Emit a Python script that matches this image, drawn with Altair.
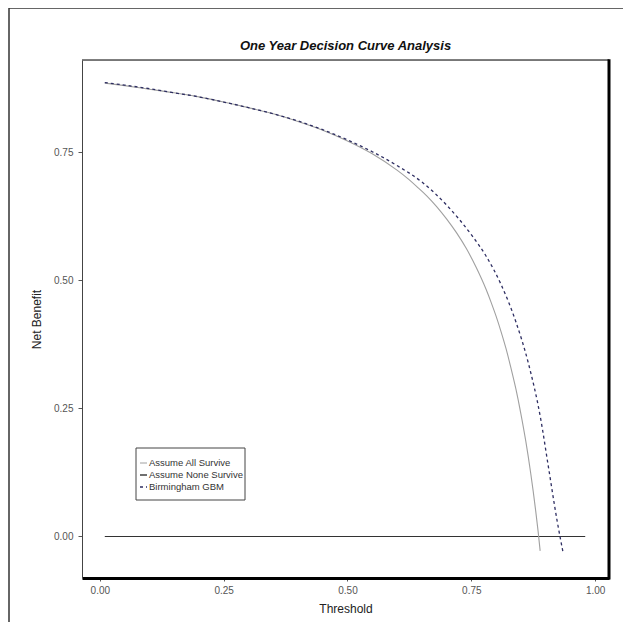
import altair as alt
import pandas as pd

# Threshold grid and net benefit values
all_t = [0.01, 0.05, 0.10, 0.15, 0.20, 0.25, 0.30, 0.35, 0.40, 0.45, 0.50, 0.55,
         0.60, 0.62, 0.64, 0.66, 0.68, 0.70, 0.72, 0.74, 0.76, 0.78, 0.79, 0.80,
         0.81, 0.82, 0.83, 0.84, 0.85, 0.86, 0.87, 0.875, 0.88, 0.885, 0.889]
all_nb = [0.885, 0.880, 0.873, 0.866, 0.858, 0.848, 0.837, 0.825, 0.810, 0.793, 0.772, 0.747,
          0.715, 0.700, 0.683, 0.665, 0.644, 0.620, 0.593, 0.562, 0.525, 0.482, 0.457, 0.430,
          0.400, 0.367, 0.329, 0.288, 0.240, 0.186, 0.123, 0.088, 0.050, 0.009, -0.028]

gbm_t = [0.01, 0.05, 0.10, 0.15, 0.20, 0.25, 0.30, 0.35, 0.40, 0.45, 0.50, 0.55,
         0.60, 0.65, 0.70, 0.75, 0.78, 0.81, 0.84, 0.865, 0.89, 0.905, 0.923, 0.935]
gbm_nb = [0.886, 0.881, 0.874, 0.866, 0.858, 0.848, 0.837, 0.825, 0.811, 0.794, 0.774, 0.751,
          0.724, 0.692, 0.647, 0.589, 0.547, 0.492, 0.419, 0.339, 0.230, 0.140, 0.032, -0.030]

none_t = [0.01, 0.98]
none_nb = [0.0, 0.0]

legend_labels = ["Assume All Survive", "Assume None Survive", "Birmingham GBM"]
x_ticks = [0.0, 0.25, 0.5, 0.75, 1.0]
y_ticks = [0.0, 0.25, 0.5, 0.75]
title_text = "One Year Decision Curve Analysis"

W, H = 527, 518
FONT = "Liberation Sans"

xs = alt.Scale(domain=[-0.036, 1.028], nice=False, zero=False)
ys = alt.Scale(domain=[-0.081, 0.930], nice=False, zero=False)

df_all = pd.DataFrame({"t": all_t, "nb": all_nb})
df_gbm = pd.DataFrame({"t": gbm_t, "nb": gbm_nb})
df_none = pd.DataFrame({"t": none_t, "nb": none_nb})
one = pd.DataFrame({"a": [0]})

xenc = alt.X("t:Q", scale=xs, title="Threshold",
             axis=alt.Axis(values=x_ticks, format=".2f", grid=False, domainColor="#000",
                           domainWidth=3, tickColor="#555", tickSize=3, labelColor="#555",
                           labelFontSize=10, labelPadding=4, titleFontSize=12,
                           titleFontWeight="normal", titleColor="#222", titlePadding=8,
                           labelFont=FONT, titleFont=FONT))
yenc = alt.Y("nb:Q", scale=ys, title="Net Benefit",
             axis=alt.Axis(values=y_ticks, format=".2f", grid=False, domainColor="#444",
                           domainWidth=1, tickColor="#555", tickSize=4, labelColor="#555",
                           labelFontSize=10, labelPadding=5, titleFontSize=12,
                           titleFontWeight="normal", titleColor="#222", titlePadding=10,
                           labelFont=FONT, titleFont=FONT))

line_all = alt.Chart(df_all).mark_line(color="#a0a0a0", strokeWidth=1.1,
                                       interpolate="monotone").encode(x=xenc, y=yenc)
line_gbm = alt.Chart(df_gbm).mark_line(color="#2e2e62", strokeWidth=1.3, strokeDash=[3, 3],
                                       interpolate="monotone").encode(
    x=alt.X("t:Q", scale=xs), y=alt.Y("nb:Q", scale=ys))
line_none = alt.Chart(df_none).mark_line(color="#333", strokeWidth=1.2).encode(
    x=alt.X("t:Q", scale=xs), y=alt.Y("nb:Q", scale=ys))

# frame: top thin, right thick
top_rule = alt.Chart(one).mark_rule(color="#555", strokeWidth=1.5).encode(
    x=alt.value(0), x2=alt.value(W), y=alt.value(0))
right_rule = alt.Chart(one).mark_rule(color="#000", strokeWidth=3).encode(
    x=alt.value(W), y=alt.value(-0.75), y2=alt.value(H + 1.5))

# outer picture frame
outer_left = alt.Chart(one).mark_rule(color="#333", strokeWidth=1.5).encode(
    x=alt.value(-73), y=alt.value(-52), y2=alt.value(H + 60))
outer_top = alt.Chart(one).mark_rule(color="#333", strokeWidth=1.5).encode(
    x=alt.value(-73), x2=alt.value(W + 20), y=alt.value(-52))

# title as text
title_mark = alt.Chart(one).mark_text(text=title_text, align="center", baseline="middle",
                                      fontSize=13, font=FONT, fontStyle="italic",
                                      fontWeight="bold", color="#111").encode(
    x=alt.value(W / 2), y=alt.value(-14))

# legend
leg_box = alt.Chart(one).mark_rect(fill="white", stroke="#444", strokeWidth=1).encode(
    x=alt.value(54), x2=alt.value(163), y=alt.value(388), y2=alt.value(440))
leg_text_layers = []
ys_px = [403, 415, 427]
for lab, yp in zip(legend_labels, ys_px):
    leg_text_layers.append(
        alt.Chart(one).mark_text(text=lab, align="left", baseline="middle", fontSize=9.5,
                                 font=FONT, color="#333").encode(
            x=alt.value(67), y=alt.value(yp)))
sym1 = alt.Chart(one).mark_rule(color="#a0a0a0", strokeWidth=1).encode(
    x=alt.value(58), x2=alt.value(65), y=alt.value(ys_px[0]))
sym2 = alt.Chart(one).mark_rule(color="#222", strokeWidth=1.3).encode(
    x=alt.value(58), x2=alt.value(65), y=alt.value(ys_px[1]))
sym3 = alt.Chart(one).mark_rule(color="#2e2e62", strokeWidth=1.3, strokeDash=[3, 3]).encode(
    x=alt.value(58), x2=alt.value(65), y=alt.value(ys_px[2]))

chart = alt.layer(
    outer_left, outer_top, line_none, line_all, line_gbm, top_rule, right_rule,
    leg_box, sym1, sym2, sym3, title_mark, *leg_text_layers
).properties(
    width=W, height=H,
    autosize=alt.AutoSizeParams(type="none"),
    padding={"left": 74, "top": 52, "right": 14, "bottom": 44},
).configure_view(stroke=None).configure(background="white")

chart.save("out.html", embed_options={"renderer": "svg", "actions": False})
